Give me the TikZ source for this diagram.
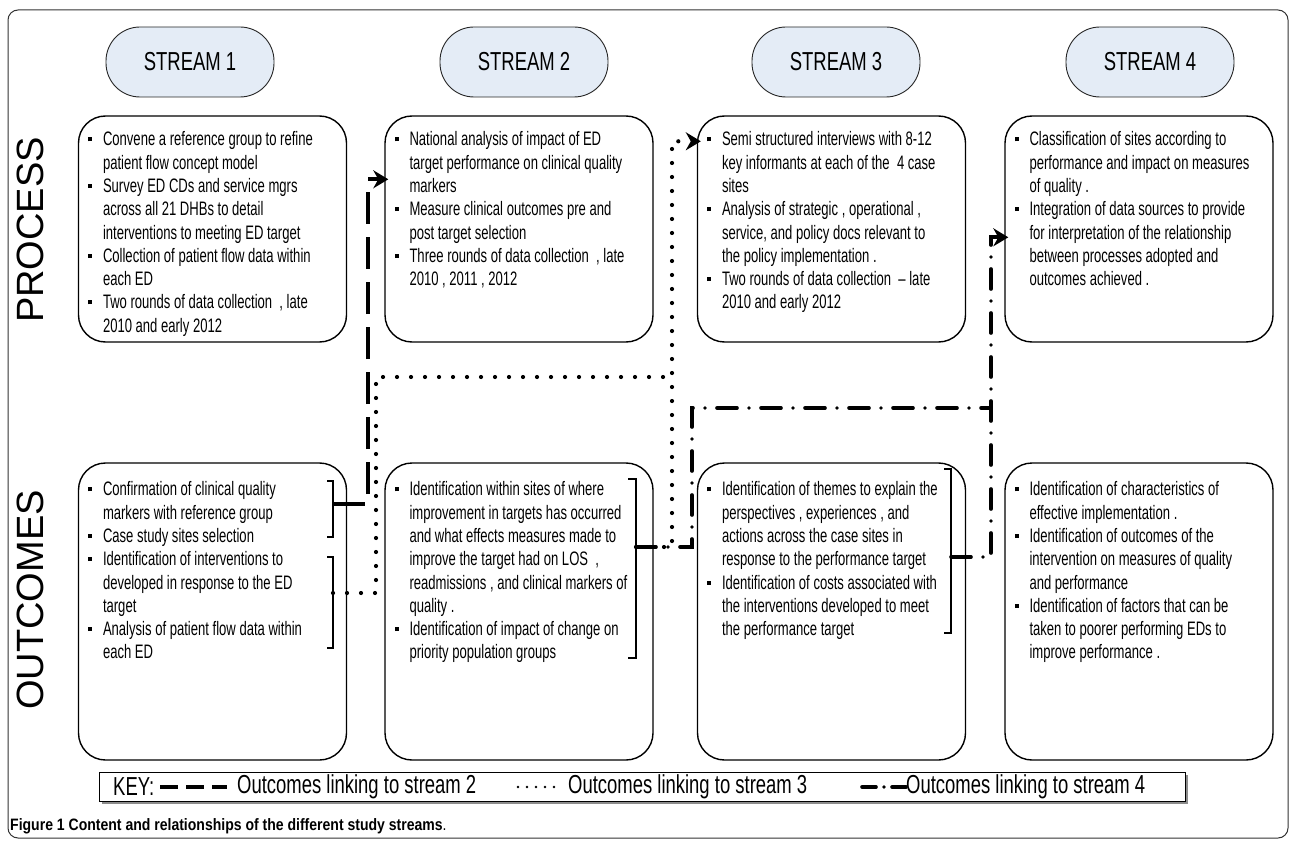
\documentclass[tikz,border=0pt]{standalone}
\usepackage{fontspec}
\setmainfont{Liberation Sans}
\newfontfamily\narrowfont{Liberation Sans}[FakeStretch=0.67]
\newfontfamily\keyfont{Liberation Sans}[FakeStretch=0.71]
\newfontfamily\capfont{Liberation Sans}[FakeStretch=0.85]
\usetikzlibrary{arrows.meta,calc}
\definecolor{pillblue}{RGB}{228,236,246}
\newcommand\bul{\makebox[16pt][l]{\hspace{1pt}\rule[4.5pt]{4pt}{4pt}}}

\begin{document}
\begin{tikzpicture}[x=1pt,y=-1pt,every node/.style={inner sep=0pt},
  frame/.style={draw=black!80,line width=1pt,rounded corners=10pt},
  pill/.style={draw=black!85,line width=0.9pt,fill=pillblue,rounded corners=34pt,
    minimum width=168pt,minimum height=70pt,font=\keyfont\fontsize{26}{28}\selectfont},
  box/.style={draw,line width=1.4pt,rounded corners=27pt,minimum width=268pt},
  pbox/.style={box,minimum height=226pt},
  obox/.style={box,minimum height=297pt},
  items/.style={anchor=north west,align=left,font=\narrowfont\fontsize{19.5}{23.3}\selectfont},
  side/.style={rotate=90,font=\fontsize{38}{40}\selectfont},
  bracket/.style={line width=1.3pt},
  tolink2/.style={line width=3.6pt,dash pattern=on 32pt off 13pt},
  tolink3/.style={line width=4.2pt,line cap=round,dash pattern=on 0pt off 14pt},
  tolink4/.style={line width=3.6pt,line cap=round,dash pattern=on 20pt off 12pt on 0pt off 12pt},
  into/.style={-{Stealth[length=15pt,width=18pt,inset=5pt]}},
  keytxt/.style={anchor=west,font=\keyfont\fontsize{26}{28}\selectfont}]
  \useasboundingbox (0,0) rectangle (1290,842);
  \draw [frame] (8,10) rectangle (1288,838);

  % streams
  \node [pill] (s1) at (190,62) {STREAM 1};
  \node [pill] (s2) at (524,62) {STREAM 2};
  \node [pill] (s3) at (836,62) {STREAM 3};
  \node [pill] (s4) at (1150,62) {STREAM 4};

  \node [side] (proc) at (30,230) {PROCESS};
  \node [side] (outc) at (30,600) {OUTCOMES};

  % process row
  \node [pbox] (p1) at (212.5,229) {};
  \node [pbox] (p2) at (519,229) {};
  \node [pbox] (p3) at (831.5,229) {};
  \node [pbox] (p4) at (1139,229) {};

  \node [items] (p1t) at ([xshift=9pt,yshift=-14pt]p1.north west) {\begin{tabular}{@{}l@{}l@{}}
    \bul & Convene a reference group to refine\\
         & patient flow concept model\\
    \bul & Survey ED CDs and service mgrs\\
         & across all 21 DHBs to detail\\
         & interventions to meeting ED target\\
    \bul & Collection of patient flow data within\\
         & each ED\\
    \bul & Two rounds of data collection \ , late\\
         & 2010 and early 2012
  \end{tabular}};

  \node [items] (p2t) at ([xshift=9pt,yshift=-14pt]p2.north west) {\begin{tabular}{@{}l@{}l@{}}
    \bul & National analysis of impact of ED\\
         & target performance on clinical quality\\
         & markers\\
    \bul & Measure clinical outcomes pre and\\
         & post target selection\\
    \bul & Three rounds of data collection \ , late\\
         & 2010 , 2011 , 2012
  \end{tabular}};

  \node [items] (p3t) at ([xshift=9pt,yshift=-14pt]p3.north west) {\begin{tabular}{@{}l@{}l@{}}
    \bul & Semi structured interviews with 8-12\\
         & key informants at each of the \ 4 case\\
         & sites\\
    \bul & Analysis of strategic , operational ,\\
         & service, and policy docs relevant to\\
         & the policy implementation .\\
    \bul & Two rounds of data collection \ – late\\
         & 2010 and early 2012
  \end{tabular}};

  \node [items] (p4t) at ([xshift=9pt,yshift=-14pt]p4.north west) {\begin{tabular}{@{}l@{}l@{}}
    \bul & Classification of sites according to\\
         & performance and impact on measures\\
         & of quality .\\
    \bul & Integration of data sources to provide\\
         & for interpretation of the relationship\\
         & between processes adopted and\\
         & outcomes achieved .
  \end{tabular}};

  % outcomes row
  \node [obox] (o1) at (212.5,611.5) {};
  \node [obox] (o2) at (519,611.5) {};
  \node [obox] (o3) at (831.5,611.5) {};
  \node [obox] (o4) at (1139,611.5) {};

  \node [items] (o1t) at ([xshift=9pt,yshift=-17pt]o1.north west) {\begin{tabular}{@{}l@{}l@{}}
    \bul & Confirmation of clinical quality\\
         & markers with reference group\\
    \bul & Case study sites selection\\
    \bul & Identification of interventions to\\
         & developed in response to the ED\\
         & target\\
    \bul & Analysis of patient flow data within\\
         & each ED
  \end{tabular}};

  \node [items] (o2t) at ([xshift=9pt,yshift=-17pt]o2.north west) {\begin{tabular}{@{}l@{}l@{}}
    \bul & Identification within sites of where\\
         & improvement in targets has occurred\\
         & and what effects measures made to\\
         & improve the target had on LOS \ ,\\
         & readmissions , and clinical markers of\\
         & quality .\\
    \bul & Identification of impact of change on\\
         & priority population groups
  \end{tabular}};

  \node [items] (o3t) at ([xshift=9pt,yshift=-17pt]o3.north west) {\begin{tabular}{@{}l@{}l@{}}
    \bul & Identification of themes to explain the\\
         & perspectives , experiences , and\\
         & actions across the case sites in\\
         & response to the performance target\\
    \bul & Identification of costs associated with\\
         & the interventions developed to meet\\
         & the performance target
  \end{tabular}};

  \node [items] (o4t) at ([xshift=9pt,yshift=-17pt]o4.north west) {\begin{tabular}{@{}l@{}l@{}}
    \bul & Identification of characteristics of\\
         & effective implementation .\\
    \bul & Identification of outcomes of the\\
         & intervention on measures of quality\\
         & and performance\\
    \bul & Identification of factors that can be\\
         & taken to poorer performing EDs to\\
         & improve performance .
  \end{tabular}};

  % brackets
  \draw [bracket] (327,481) -- (333,481) -- (333,537) -- (327,537);
  \draw [bracket] (327,557) -- (333,557) -- (333,648) -- (327,648);
  \draw [bracket] (628,479) -- (636,479) -- (636,658) -- (628,658);
  \draw [bracket] (944,469) -- (951,469) -- (951,633) -- (944,633);
  \coordinate (o1a) at (333,504);
  \coordinate (o1b) at (333,593);
  \coordinate (o2a) at (636,547);
  \coordinate (o3a) at (951,557);
  \coordinate (j3) at (672,377);
  \coordinate (j4) at (991,408);

  % links
  \draw [tolink2,into] (o1a) -- ++(35,0) |- ([xshift=4pt,yshift=-64pt]p2.north west);
  \draw [tolink3] (o1b) -- ++(43,0) |- (j3);
  \draw [tolink3,into] (o2a) -- (o2a -| j3) |- ([xshift=4pt,yshift=-26pt]p3.north west);
  \draw [tolink4] (o2a) -- ++(56,0) |- (j4);
  \draw [tolink4,into] (o3a) -- (o3a -| j4) |- ([xshift=4pt,yshift=-122pt]p4.north west);

  % key
  \fill [black!45] (102,775) rectangle (1188,804);
  \node [draw,fill=white,line width=1pt,minimum width=1086pt,minimum height=29pt] (key) at (642,786.5) {};
  \node [keytxt] (k0) at (113,787) {KEY:};
  \node [keytxt] (k2) at (237,787) {Outcomes linking to stream 2};
  \node [keytxt] (k3) at (568,787) {Outcomes linking to stream 3};
  \node [keytxt] (k4) at (906,787) {Outcomes linking to stream 4};
  \draw [line width=3.6pt,dash pattern=on 18pt off 8pt] ([xshift=6pt]k0.east) -- ([xshift=-10pt]k2.west);
  \draw [line width=2.6pt,line cap=round,dash pattern=on 0pt off 9pt] ([xshift=-50pt]k3.west) -- ([xshift=-8pt]k3.west);
  \draw [line width=3.6pt,line cap=round,dash pattern=on 14pt off 8pt on 0pt off 8pt] ([xshift=-44pt]k4.west) -- (k4.west);

  \node [anchor=west,font=\capfont\fontsize{16.5}{18}\selectfont] (cap) at (10,826)
    {\bfseries Figure 1 Content and relationships of the different study streams\mdseries .};
\end{tikzpicture}
\end{document}
